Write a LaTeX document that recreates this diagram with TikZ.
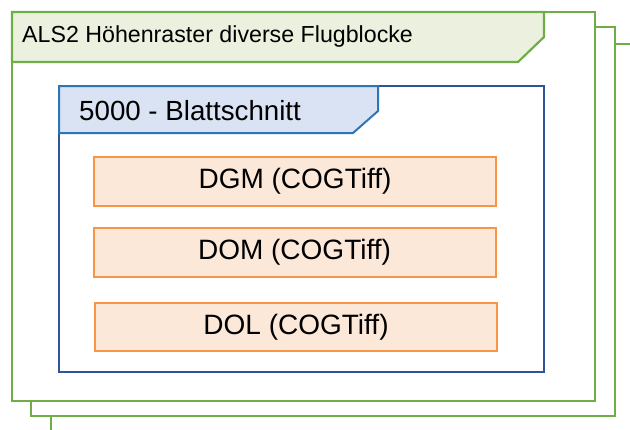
\documentclass[tikz,border=0pt]{standalone}
\usepackage{fontspec}
\setmainfont{Liberation Sans}
\definecolor{grn}{HTML}{70AD47}
\definecolor{grnfill}{HTML}{EBF1DE}
\definecolor{blu}{HTML}{2F5597}
\definecolor{blutab}{HTML}{2E75B6}
\definecolor{blufill}{HTML}{DAE3F3}
\definecolor{org}{HTML}{F79646}
\definecolor{orgfill}{HTML}{FCE8D9}
\begin{document}
\begin{tikzpicture}[x=1pt,y=-1pt,
  frame/.style={draw=grn,line width=2.2pt,fill=white},
  gtab/.style={draw=grn,line width=2.2pt,fill=grnfill,line join=miter},
  bluebox/.style={draw=blu,line width=2pt,fill=white},
  btab/.style={draw=blutab,line width=2pt,fill=blufill,line join=miter},
  obox/.style={draw=org,line width=2pt,fill=orgfill,minimum width=402pt,minimum height=49pt,inner sep=0pt,font=\fontsize{28}{32}\selectfont},
  ttl/.style={anchor=base west,inner sep=0pt}]
\useasboundingbox (0,0) rectangle (630,429);
\clip (0,0) rectangle (630,429);
\draw[frame] (51,44) rectangle (660,460);
\draw[frame] (31,27) rectangle (615,416);
\draw[frame] (12,12) rectangle (595,401);
\draw[gtab] (12,12) -- (544,12) -- (544,37) -- (518,62) -- (12,62) -- cycle;
\node[ttl,font=\fontsize{23.2}{27}\selectfont] (t1) at (22,42) {ALS2 Höhenraster diverse Flugblocke};
\draw[bluebox] (59,86) rectangle (544,372);
\draw[btab] (59,86) -- (378,86) -- (378,111) -- (353,133) -- (59,133) -- cycle;
\node[ttl,font=\fontsize{27.7}{31}\selectfont] (t2) at (79,120) {5000 - Blattschnitt};
\node[obox] (dgm) at (295,181.5) {DGM (COGTiff)};
\node[obox] (dom) at (294.5,252.5) {DOM (COGTiff)};
\node[obox,minimum height=48pt] (dol) at (296,327) {DOL (COGTiff)};
\end{tikzpicture}
\end{document}
